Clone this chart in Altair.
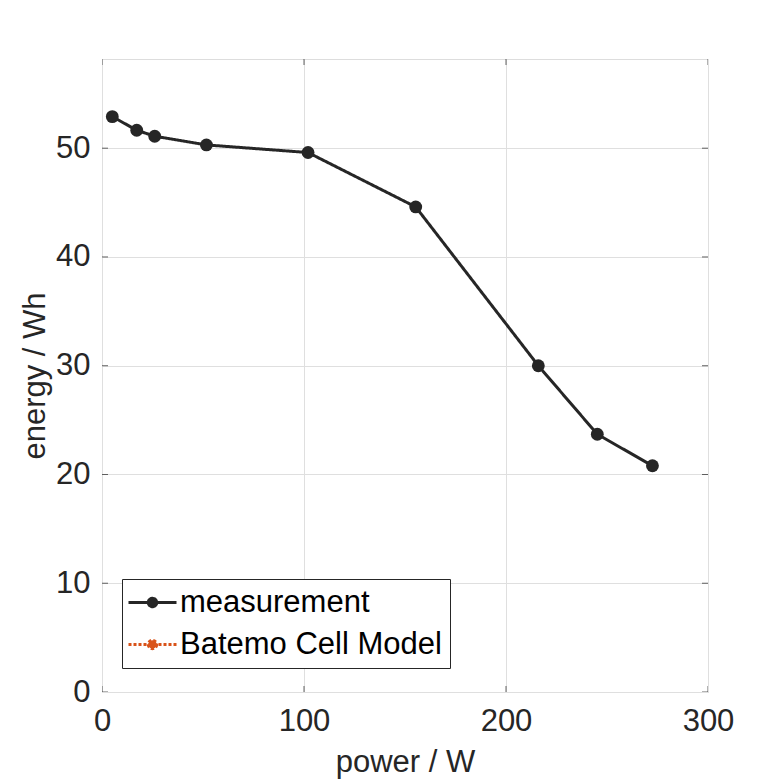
import altair as alt
import pandas as pd

power = [5.1, 17.2, 26.1, 51.7, 102.0, 155.3, 216.0, 245.2, 272.5]
energy = [52.9, 51.65, 51.1, 50.3, 49.6, 44.6, 30.0, 23.7, 20.8]
series_names = ["measurement", "Batemo Cell Model"]
series_colors = ["#262626", "#D95319"]
series_dashes = [[1, 0], [3, 2]]

x_ticks = [0, 100, 200, 300]
y_ticks = [0, 10, 20, 30, 40, 50]
X_MAX = 300
Y_MAX = 58.2

df = pd.DataFrame({"power": power, "energy": energy, "series": "measurement"})
xt = pd.DataFrame({"v": x_ticks})
yt = pd.DataFrame({"v": y_ticks})

FONT = "Liberation Sans"
FS = 31
AX = "#262626"

xs = alt.Scale(domain=[0, X_MAX], nice=False, zero=False)
ys = alt.Scale(domain=[0, Y_MAX], nice=False, zero=False)

# legend glyph: a line with a dot in its middle (unit = sqrt(size)/2 px)
sym_path = ("M -2.4 0 L 2.4 0 M 0.42 0 A 0.42 0.42 0 1 1 -0.42 0 "
            "A 0.42 0.42 0 1 1 0.42 0 Z")

legend = alt.Legend(
    title=None,
    orient="none",
    legendX=20,
    legendY=520,
    direction="vertical",
    strokeColor=AX,
    fillColor="white",
    padding=8,
    rowPadding=10,
    labelFont=FONT,
    labelFontSize=FS,
    labelColor="#000000",
    labelOffset=12,
    labelLimit=400,
    symbolType=sym_path,
    symbolSize=400,
    symbolOffset=7,
    symbolStrokeWidth=3,
    symbolOpacity=1,
)

cscale = alt.Scale(domain=series_names, range=series_colors)
dscale = alt.Scale(domain=series_names, range=series_dashes)

x_enc = alt.X(
    "power:Q", scale=xs,
    axis=alt.Axis(
        values=x_ticks, title="power / W", ticks=False, domain=False,
        grid=True, gridColor="#dfdfdf", gridWidth=1,
        labelFont=FONT, labelFontSize=FS, labelColor=AX, labelPadding=14,
        titleFont=FONT, titleFontSize=FS, titleColor=AX, titleFontWeight="normal",
        titlePadding=11, labelFlush=False,
    ),
)
y_enc = alt.Y(
    "energy:Q", scale=ys,
    axis=alt.Axis(
        values=y_ticks, title="energy / Wh", ticks=False, domain=False,
        grid=True, gridColor="#dfdfdf", gridWidth=1,
        labelFont=FONT, labelFontSize=FS, labelColor=AX, labelPadding=12,
        titleFont=FONT, titleFontSize=FS, titleColor=AX, titleFontWeight="normal",
        titlePadding=4, labelFlush=False,
    ),
)

line = alt.Chart(df).mark_line(strokeWidth=3).encode(
    x=x_enc, y=y_enc,
    color=alt.Color("series:N", scale=cscale, legend=legend),
    strokeDash=alt.StrokeDash("series:N", scale=dscale, legend=legend),
)
pts = alt.Chart(df).mark_point(filled=True, size=165, opacity=1).encode(
    x="power:Q", y="energy:Q",
    color=alt.Color("series:N", scale=cscale, legend=legend),
)

# inward tick marks on all four sides (outer half clipped away)
tx_bottom = alt.Chart(xt).mark_tick(orient="vertical", size=12, thickness=1, color=AX, clip=True).encode(
    x=alt.X("v:Q", scale=xs), y=alt.datum(0, scale=ys))
tx_top = alt.Chart(xt).mark_tick(orient="vertical", size=12, thickness=1, color=AX, clip=True).encode(
    x=alt.X("v:Q", scale=xs), y=alt.datum(Y_MAX, scale=ys))
ty_left = alt.Chart(yt).mark_tick(orient="horizontal", size=12, thickness=1, color=AX, clip=True).encode(
    y=alt.Y("v:Q", scale=ys), x=alt.datum(0, scale=xs))
ty_right = alt.Chart(yt).mark_tick(orient="horizontal", size=12, thickness=1, color=AX, clip=True).encode(
    y=alt.Y("v:Q", scale=ys), x=alt.datum(X_MAX, scale=xs))

chart = alt.layer(line, pts, tx_bottom, tx_top, ty_left, ty_right).properties(
    width=606, height=633,
    autosize=alt.AutoSizeParams(type="none"),
    padding={"left": 94, "top": 51, "right": 50, "bottom": 88},
).configure_view(stroke=AX, strokeWidth=1.2).configure(background="white")

chart.save("out.html", embed_options={"renderer": "svg", "actions": False})
